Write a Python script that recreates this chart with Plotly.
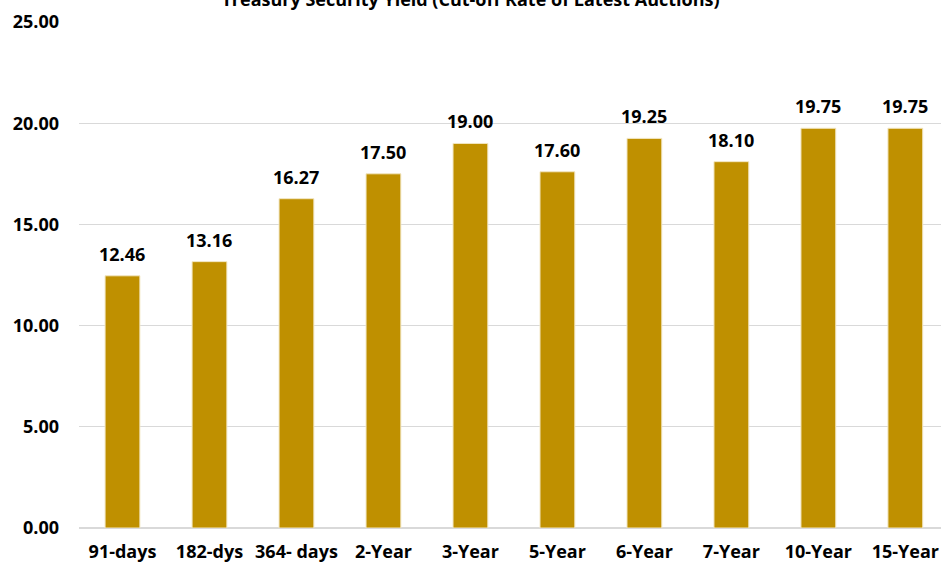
import plotly.graph_objects as go

categories = ["91-days", "182-dys", "364- days", "2-Year", "3-Year", "5-Year",
              "6-Year", "7-Year", "10-Year", "15-Year"]
values = [12.46, 13.16, 16.27, 17.50, 19.00, 17.60, 19.25, 18.10, 19.75, 19.75]
y_ticks = [0, 5, 10, 15, 20, 25]
y_tick_labels = ["0.00", "5.00", "10.00", "15.00", "20.00", "25.00"]
title_text = "Treasury Security Yield (Cut-off Rate of Latest Auctions)"

FONT = "Open Sans"

fig = go.Figure(go.Bar(
    x=categories,
    y=values,
    marker=dict(color="#BF9000", line=dict(color="#F2E6C2", width=1)),
    width=0.4,
))

for c, v in zip(categories, values):
    fig.add_annotation(
        x=c, y=v, xref="x", yref="y",
        text=f"<b>{v:.2f}</b>", showarrow=False,
        yanchor="bottom", yshift=8,
        font=dict(family=FONT, size=18, color="#000000"),
    )

fig.update_layout(
    width=941, height=565,
    margin=dict(l=79, r=0, t=22, b=37),
    paper_bgcolor="white", plot_bgcolor="white",
    showlegend=False,
    title=dict(text=f"<b>{title_text}</b>", x=0.5, xref="container",
               y=1.0, yref="container", yanchor="middle",
               font=dict(family=FONT, size=18, color="#000000")),
    font=dict(family=FONT, size=18, color="#000000"),
    xaxis=dict(
        range=[-0.5, 9.41], automargin=False,
        showgrid=False, showline=False, zeroline=False,
        ticks="", tickfont=dict(family=FONT, size=18, color="#000000", weight="bold"),
        ticklabelstandoff=11,
    ),
    yaxis=dict(
        range=[0, 25], automargin=False,
        tickvals=y_ticks, ticktext=y_tick_labels,
        showgrid=True, gridcolor="#D9D9D9", gridwidth=1,
        zeroline=True, zerolinecolor="#D9D9D9", zerolinewidth=1.5,
        showline=False, ticks="",
        tickfont=dict(family=FONT, size=18, color="#000000", weight="bold"),
        ticklabelstandoff=19,
    ),
)

fig.write_html("out.html")
